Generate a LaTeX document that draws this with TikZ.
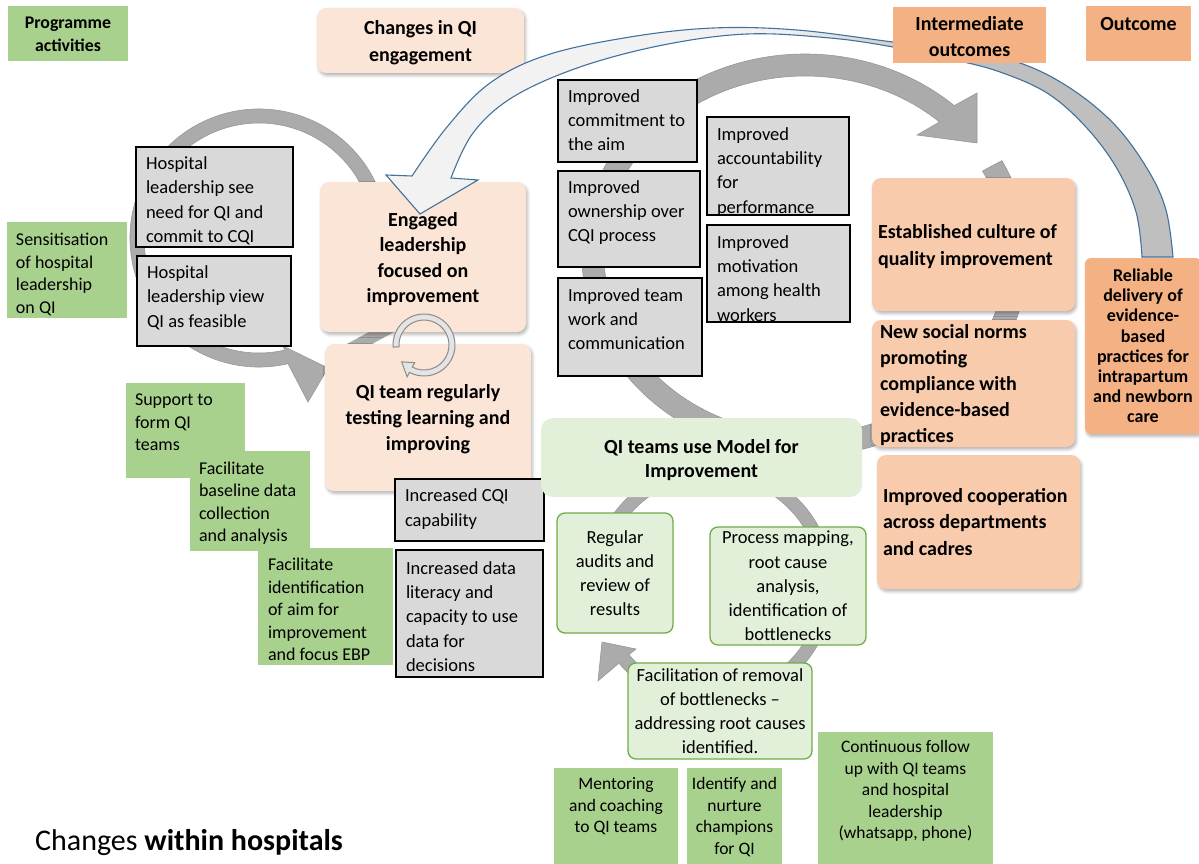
\documentclass[tikz,border=0pt]{standalone}
\usepackage{fontspec}
\setmainfont{Carlito}
\usetikzlibrary{calc,shadows.blur}

\definecolor{actgreen}{HTML}{A9D18E}
\definecolor{peach}{HTML}{FBE5D6}
\definecolor{orangebox}{HTML}{F4B183}
\definecolor{lightorange}{HTML}{F8CBAD}
\definecolor{palegreen}{HTML}{E2F0D9}
\definecolor{greenline}{HTML}{70AD47}
\definecolor{boxgray}{HTML}{D9D9D9}
\definecolor{bandgray}{HTML}{ABABAB}
\definecolor{bandline}{HTML}{979797}
\definecolor{arrowblue}{HTML}{41719C}
\definecolor{arrowlight}{HTML}{F2F2F2}
\definecolor{arrowgray}{HTML}{BFBFBF}
\definecolor{ringline}{HTML}{8C8C8C}
\definecolor{ringfill}{HTML}{E4E4E4}

% light-to-grey fill of the large feedback arrow
\pgfdeclarehorizontalshading{feedbackshade}{100bp}{color(0bp)=(arrowlight); color(50bp)=(arrowlight); color(61bp)=(arrowgray); color(100bp)=(arrowgray)}

% fixed-height text blocks: top aligned (left / centred) and vertically centred
\newcommand{\tp}[4]{\parbox[c][#1][t]{#2}{\raggedright\vspace*{#3}\strut#4}}
\newcommand{\tpc}[4]{\parbox[c][#1][t]{#2}{\centering\vspace*{#3}\strut#4}}
\newcommand{\cp}[4]{\parbox[c][#1][c]{#2}{#3#4}}
% vertically centred bold text, nudged down slightly
\newcommand{\cpb}[4]{\parbox[c][#1][c]{#2}{\vspace*{4pt}#3#4}}

\tikzset{
  boxbase/.style={anchor=north west, inner sep=0pt, outer sep=0pt},
  actbox/.style={boxbase, fill=actgreen, font=\fontsize{18}{22.5}\selectfont},
  actcbox/.style={boxbase, fill=actgreen, font=\fontsize{17.5}{21.5}\selectfont},
  headbox/.style={boxbase, fill=orangebox, font=\bfseries\fontsize{20}{26}\selectfont},
  greybox/.style={boxbase, draw=black, line width=1.4pt, fill=boxgray, font=\fontsize{18.5}{24.4}\selectfont},
  softshadow/.style={blur shadow={shadow xshift=1.5pt, shadow yshift=-2.5pt, shadow blur radius=3pt, shadow opacity=30}},
  peachbox/.style={boxbase, fill=peach, rounded corners=9pt, softshadow, font=\bfseries\fontsize{20}{25.5}\selectfont},
  outbox/.style={boxbase, fill=lightorange, rounded corners=9pt, softshadow, font=\bfseries\fontsize{20}{26.5}\selectfont},
  stepgreen/.style={boxbase, fill=palegreen, draw=greenline, line width=1.3pt, rounded corners=8pt, font=\fontsize{18.5}{24.2}\selectfont},
  band/.style={fill=bandgray, draw=bandline, line width=0.6pt},
}

\begin{document}
\begin{tikzpicture}[x=1pt,y=-1pt]
\useasboundingbox (0,0) rectangle (1199,864);
\clip (0,0) rectangle (1199,864);

% ---------- background cycle bands ----------
\coordinate (lc) at (259,238);
\coordinate (mc) at (805,255);
\coordinate (bc) at (712,585);

% leadership loop
\draw[band] ($(lc)+(-15:129)$) arc[start angle=-15, end angle=-283, radius=129]
  -- (308,402) -- (328,368) -- (283,346)
  -- ($(lc)+(-283:115)$) arc[start angle=-283, end angle=-15, radius=115] -- cycle;
\draw[line width=12pt, bandgray] (330,360) -- (400,322);

% large engagement loop
\draw[band] ($(mc)+(108:223 and 201)$) arc[start angle=108, end angle=312, x radius=223, y radius=201]
  -- (977,93) -- (977,143) -- (917,135)
  -- ($(mc)+(312:201 and 179)$) arc[start angle=312, end angle=108, x radius=201, y radius=179] -- cycle;
\draw[band] ($(mc)+(-28:223 and 201)$) arc[start angle=-28, end angle=80, x radius=223, y radius=201]
  -- ($(mc)+(80:201 and 179)$) arc[start angle=80, end angle=-28, x radius=201, y radius=179] -- cycle;

% Model for Improvement cycle
\draw[band] ($(bc)+(175:121.5)$) arc[start angle=175, end angle=500, radius=121.5]
  -- (598,681) -- (602,642) -- (636,649)
  -- ($(bc)+(500:108.5)$) arc[start angle=500, end angle=175, radius=108.5] -- cycle;

% ---------- column headers ----------
\node[boxbase, fill=actgreen, minimum width=120pt, font=\bfseries\fontsize{17.8}{23}\selectfont] (prog) at (8,6)
  {\tpc{55pt}{116pt}{6.2pt}{Programme\\activities}};
\node[peachbox, minimum width=207pt, font=\bfseries\fontsize{20}{27}\selectfont] (chg) at (317,8)
  {\cpb{65pt}{200pt}{\centering}{Changes in QI\\engagement}};
\node[headbox, minimum width=105pt] (outc) at (1086,6)
  {\tpc{55pt}{100pt}{6.6pt}{Outcome}};

% ---------- programme activities ----------
\node[actbox, minimum width=120pt] (sens) at (7,222)
  {\tp{96pt}{102pt}{8pt}{Sensitisation\\of hospital\\leadership\\on QI}};
\node[actbox, minimum width=119pt] (sup) at (126,383)
  {\tp{95pt}{101pt}{7.2pt}{Support to\\form QI\\teams}};
\node[actbox, minimum width=120pt] (base) at (190,451)
  {\tp{100pt}{102pt}{7.6pt}{Facilitate\\baseline data\\collection\\and analysis}};
\node[actbox, minimum width=135pt] (aim) at (258,548)
  {\tp{117pt}{115pt}{6.8pt}{Facilitate\\identification\\of aim for\\improvement\\and focus EBP}};

\node[actcbox, minimum width=124pt] (ment) at (554,768)
  {\tpc{100pt}{118pt}{6.6pt}{Mentoring\\and coaching\\to QI teams}};
\node[actcbox, minimum width=95pt] (champ) at (687,768)
  {\tpc{100pt}{92pt}{6.6pt}{Identify and\\nurture\\champions\\for QI}};
\node[actcbox, minimum width=175pt] (foll) at (818,732)
  {\tpc{136pt}{170pt}{5.8pt}{Continuous follow\\up with QI teams\\and hospital\\leadership\\(whatsapp, phone)}};

% ---------- changes in QI engagement ----------
\node[peachbox, minimum width=206pt] (eng) at (320,182)
  {\cpb{150pt}{196pt}{\centering}{Engaged\\leadership\\focused on\\improvement}};
\node[peachbox, minimum width=206pt, font=\bfseries\fontsize{20}{26}\selectfont] (team) at (325,344)
  {\cpb{147pt}{200pt}{\centering}{QI team regularly\\testing learning and\\improving}};

\node[greybox, minimum width=157pt] (see) at (136,147)
  {\tp{100pt}{137pt}{5.2pt}{Hospital\\leadership see\\need for QI and\\commit to CQI}};
\node[greybox, minimum width=154pt] (view) at (137,256)
  {\tp{90pt}{134pt}{5.2pt}{Hospital\\leadership view\\QI as feasible}};
\node[greybox, minimum width=149pt] (cap) at (395,479)
  {\tp{62pt}{129pt}{5.6pt}{Increased CQI\\capability}};
\node[greybox, minimum width=147pt] (lit) at (396,550)
  {\tp{127pt}{127pt}{7pt}{Increased data\\literacy and\\capacity to use\\data for\\decisions}};
\node[greybox, minimum width=139pt] (commit) at (558,80)
  {\tp{82pt}{119pt}{5pt}{Improved\\commitment to\\the aim}};
\node[greybox, minimum width=142pt] (own) at (558,171)
  {\tp{96pt}{122pt}{5pt}{Improved\\ownership over\\CQI process}};
\node[greybox, minimum width=144pt] (tw) at (558,278)
  {\tp{98pt}{124pt}{6pt}{Improved team\\work and\\communication}};
\node[greybox, minimum width=142pt] (acc) at (707,117)
  {\tp{98pt}{122pt}{6pt}{Improved\\accountability\\for\\performance}};
\node[greybox, minimum width=143pt] (mot) at (707,225)
  {\tp{97pt}{123pt}{6pt}{Improved\\motivation\\among health\\workers}};

% ---------- Model for Improvement ----------
\node[boxbase, fill=palegreen, rounded corners=12pt, minimum width=321pt, font=\bfseries\fontsize{20}{24}\selectfont] (mfi) at (541,418)
  {\parbox[c][79pt][c]{300pt}{\vspace*{6pt}\centering QI teams use Model for\\Improvement}};
\node[stepgreen, minimum width=116pt] (aud) at (557,513)
  {\cp{120pt}{110pt}{\centering}{Regular\\audits and\\review of\\results}};
\node[stepgreen, minimum width=156pt] (pmap) at (710,527)
  {\cp{118pt}{150pt}{\centering}{Process mapping,\\root cause\\analysis,\\identification of\\bottlenecks}};
\node[stepgreen, minimum width=184pt] (rem) at (628,663)
  {\cp{96pt}{180pt}{\centering}{Facilitation of removal\\of bottlenecks \textendash\\addressing root causes\\identified.}};

% ---------- intermediate outcomes and outcome ----------
\node[outbox, minimum width=203pt, font=\bfseries\fontsize{20}{27}\selectfont] (cult) at (872,178)
  {\cpb{133pt}{191pt}{\raggedright}{Established culture of\\quality improvement}};
\node[outbox, minimum width=203pt, font=\bfseries\fontsize{20}{26.2}\selectfont] (norm) at (872,320)
  {\parbox[c][127pt][c]{187pt}{\vspace*{3pt}\raggedright New social norms\\promoting\\compliance with\\evidence-based\\practices}};
\node[outbox, minimum width=203pt] (coop) at (877,455)
  {\cp{134pt}{191pt}{\raggedright}{Improved cooperation\\across departments\\and cadres}};
\node[boxbase, fill=orangebox, rounded corners=6pt, softshadow, minimum width=116pt, font=\bfseries\fontsize{18}{20.2}\selectfont] (rel) at (1085,258)
  {\cp{176pt}{112pt}{\centering}{Reliable\\delivery of\\evidence-\\based\\practices for\\intrapartum\\and newborn\\care}};

% ---------- large feedback arrow ----------
\path[draw=arrowblue, line width=1.1pt, shading=feedbackshade]
  (386,175) -- (412,176)
  -- plot[smooth, tension=0.6] coordinates {(412,176) (447,127) (490,83) (547,55) (630,37) (713,28) (797,30) (893,42) (960,50) (1020,63) (1070,88) (1115,125) (1148,170) (1166,210) (1173,257)}
  -- (1142,257)
  -- plot[smooth, tension=0.6] coordinates {(1142,257) (1136,212) (1116,167) (1085,126) (1047,93) (1000,72) (955,60) (893,47) (830,38) (747,34) (663,45) (580,67) (513,97) (473,133) (451,178)}
  -- (478,180) -- (420,214) -- cycle;

\node[headbox, minimum width=153pt] (inter) at (893,7)
  {\tpc{56pt}{150pt}{5.3pt}{Intermediate\\outcomes}};

% ---------- small learning cycle ----------
\coordinate (rc) at (424,345);
\draw[fill=ringfill, draw=ringline, line width=1pt]
  ($(rc)+(176:31)$) arc[start angle=176, end angle=478, radius=31]
  -- ($(rc)+(478:36)$) -- ($(rc)+(503:28)$) -- ($(rc)+(478:20)$)
  -- ($(rc)+(478:25)$) arc[start angle=478, end angle=176, radius=25] -- cycle;

% ---------- caption ----------
\node[anchor=base west, inner sep=0pt, font=\fontsize{30}{36}\selectfont] (cap) at (35,850)
  {Changes \textbf{within hospitals}};
\end{tikzpicture}
\end{document}
